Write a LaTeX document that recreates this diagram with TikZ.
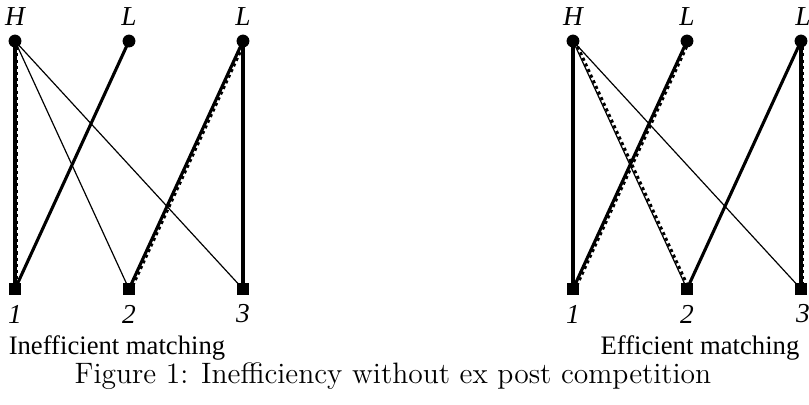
\documentclass[tikz,border=0pt]{standalone}
\usepackage{fontspec}
\newfontfamily\tnr{Liberation Serif}
\begin{document}
\begin{tikzpicture}[x=0.42pt,y=-0.42pt,
  top/.style={circle,fill=black,inner sep=0pt,minimum size=5.4pt},
  bot/.style={rectangle,fill=black,inner sep=0pt,minimum size=5pt},
  lab/.style={font=\tnr\itshape\fontsize{11.5}{13}\selectfont,inner sep=0pt},
  thk/.style={line width=1.3pt},
  thn/.style={line width=0.5pt},
  dsh/.style={line width=1.2pt,dash pattern=on 1.3pt off 1.3pt},
  sub/.style={font=\tnr\fontsize{11.2}{13}\selectfont,inner sep=0pt}]
\useasboundingbox (0,0) rectangle (809,404);
% left panel
\node[top] (lh) at (15,41) {};
\node[top] (ll1) at (129,41) {};
\node[top] (ll2) at (243,41) {};
\node[bot] (lb1) at (15,289) {};
\node[bot] (lb2) at (129,289) {};
\node[bot] (lb3) at (243,289) {};
\node[lab] (tlh) at (15,17) {H};
\node[lab] (tll1) at (129,17) {L};
\node[lab] (tll2) at (243,17) {L};
\node[lab] (tlb1) at (15,314) {1};
\node[lab] (tlb2) at (129,314) {2};
\node[lab] (tlb3) at (243,314) {3};
\draw[thk] (lh.center) -- (lb1.center);
\draw[dsh] ([xshift=0.85pt]lh.center) -- ([xshift=0.85pt]lb1.center);
\draw[thn] (lh.center) -- (lb2.center);
\draw[thn] (lh.center) -- (lb3.center);
\draw[thk] (ll1.center) -- (lb1.center);
\draw[thk] (ll2.center) -- (lb2.center);
\draw[dsh] ([xshift=0.95pt]ll2.center) -- ([xshift=0.95pt]lb2.center);
\draw[thk] (ll2.center) -- (lb3.center);
% right panel
\node[top] (rh) at (573,41) {};
\node[top] (rl1) at (687,41) {};
\node[top] (rl2) at (801,41) {};
\node[bot] (rb1) at (573,289) {};
\node[bot] (rb2) at (687,289) {};
\node[bot] (rb3) at (801,289) {};
\node[lab] (trh) at (573,17) {H};
\node[lab] (trl1) at (687,17) {L};
\node[lab] (trl2) at (803,17) {L};
\node[lab] (trb1) at (573,314) {1};
\node[lab] (trb2) at (687,314) {2};
\node[lab] (trb3) at (803,314) {3};
\draw[thk] (rh.center) -- (rb1.center);
\draw[thn] (rh.center) -- (rb2.center);
\draw[dsh] ([xshift=0.9pt]rh.center) -- ([xshift=0.9pt]rb2.center);
\draw[thn] (rh.center) -- (rb3.center);
\draw[thk] (rl1.center) -- (rb1.center);
\draw[dsh] ([xshift=0.95pt]rl1.center) -- ([xshift=0.95pt]rb1.center);
\draw[thk] (rl2.center) -- (rb2.center);
\draw[thk] (rl2.center) -- (rb3.center);
\draw[dsh] ([xshift=0.85pt]rl2.center) -- ([xshift=0.85pt]rb3.center);
% texts
\node[sub] (s1) at (117,348) {Inefficient matching};
\node[sub] (s2) at (700,348) {Efficient matching};
\node[font=\fontsize{12.4}{14}\selectfont,inner sep=0pt] (cap) at (393,376) {Figure 1: Inefficiency without ex post competition};
\end{tikzpicture}
\end{document}
